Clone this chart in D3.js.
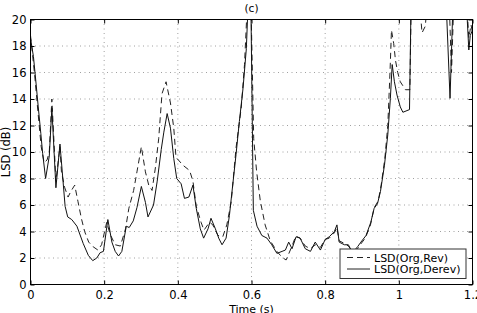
<!DOCTYPE html>
<html><head><meta charset="utf-8">
<script src="https://cdn.jsdelivr.net/npm/d3@7"></script>
<style>
html,body{margin:0;padding:0;background:#fff;}
svg text{font-family:"DejaVu Sans",sans-serif;}
</style></head>
<body><svg id="c" width="477" height="313"></svg>
<script>
const title = "(c)";
const xLabel = "Time (s)";
const yLabel = "LSD (dB)";
const seriesNames = ["LSD(Org,Rev)", "LSD(Org,Derev)"];
const xTicks = [0, 0.2, 0.4, 0.6, 0.8, 1.0, 1.2];
const yTicks = [0, 2, 4, 6, 8, 10, 12, 14, 16, 18, 20];

// LSD(Org,Rev) - dashed
const timeRev = [0.000,0.011,0.020,0.029,0.037,0.045,0.051,0.058,0.069,0.080,0.084,0.093,0.102,0.109,0.120,0.129,0.138,0.147,0.158,0.170,0.183,0.193,0.207,0.216,0.230,0.244,0.258,0.267,0.280,0.289,0.301,0.312,0.321,0.330,0.339,0.348,0.357,0.368,0.380,0.389,0.395,0.414,0.432,0.441,0.450,0.463,0.471,0.486,0.495,0.509,0.522,0.533,0.545,0.558,0.572,0.581,0.590,0.598,0.606,0.614,0.624,0.637,0.651,0.669,0.683,0.694,0.710,0.720,0.732,0.746,0.760,0.773,0.787,0.800,0.811,0.825,0.832,0.838,0.852,0.863,0.874,0.888,0.895,0.909,0.923,0.933,0.944,0.952,0.962,0.970,0.976,0.980,0.986,0.991,0.997,1.004,1.018,1.030,1.034,1.045,1.057,1.063,1.072,1.076,1.100,1.136,1.143,1.150,1.170,1.185,1.190,1.196,1.200];
const lsdRev = [18.8,15.9,13.1,10.4,9.2,9.4,10.0,14.0,7.8,10.4,8.5,7.3,6.6,7.0,7.5,6.25,5.0,4.0,3.2,2.85,2.6,3.0,4.7,3.8,3.0,2.9,4.2,5.75,7.1,8.5,10.4,8.5,7.5,7.1,8.8,11.0,14.4,15.3,13.7,11.8,9.6,9.0,8.6,7.8,5.9,4.7,4.1,4.7,4.5,3.7,3.6,4.5,6.25,10.3,13.3,16.6,22,22,11,8.5,6.3,4.5,3.3,2.5,2.05,1.85,2.9,3.65,3.5,2.9,2.7,3.0,2.8,3.4,3.5,3.9,4.3,3.3,3.1,2.9,2.5,2.7,3.0,3.5,4.5,5.8,6.3,7.5,9.5,12.0,16.0,19.2,18.2,16.9,16.0,15.3,14.7,14.7,22,23,21,19.0,19.5,21,23,22,16.0,22,23,21,18.6,19.6,19.0];

// LSD(Org,Derev) - solid
const timeDerev = [0.000,0.008,0.015,0.021,0.028,0.033,0.041,0.051,0.058,0.069,0.080,0.094,0.101,0.112,0.126,0.143,0.157,0.169,0.180,0.189,0.198,0.210,0.221,0.230,0.239,0.248,0.260,0.268,0.279,0.289,0.301,0.312,0.319,0.334,0.344,0.355,0.362,0.371,0.380,0.389,0.397,0.409,0.418,0.430,0.441,0.450,0.461,0.470,0.482,0.490,0.502,0.511,0.520,0.531,0.540,0.549,0.558,0.567,0.577,0.586,0.592,0.598,0.605,0.615,0.628,0.642,0.655,0.669,0.683,0.692,0.701,0.710,0.721,0.732,0.746,0.760,0.773,0.787,0.800,0.811,0.825,0.832,0.838,0.852,0.863,0.874,0.888,0.897,0.911,0.924,0.933,0.942,0.950,0.961,0.970,0.977,0.982,0.988,0.995,1.004,1.011,1.029,1.034,1.080,1.126,1.139,1.149,1.182,1.190,1.194,1.200];
const lsdDerev = [18.6,17.2,15.2,13.4,11.4,9.9,8.0,9.7,13.3,7.3,10.6,5.9,5.1,4.9,4.4,3.1,2.2,1.8,2.0,2.4,2.5,4.9,3.2,2.5,2.15,2.5,4.4,4.3,4.8,5.8,7.4,6.2,5.1,6.0,7.8,10.2,11.5,12.9,11.8,9.5,8.0,7.6,6.5,6.6,7.5,5.75,4.2,3.5,4.2,5.0,4.2,3.5,3.0,3.5,5.2,7.5,9.8,12.3,14.8,17.8,22,22,5.6,4.4,3.7,3.5,3.0,2.35,2.5,2.6,3.2,2.7,3.6,3.5,2.7,2.5,3.2,2.6,3.4,3.6,4.0,4.5,3.2,3.0,3.0,2.4,2.85,3.2,3.7,4.7,5.75,6.1,7.0,9.0,11.3,14.05,16.6,15.3,14.3,13.4,13.0,13.2,23,24,23,14.05,23,22,17.7,18.8,19.2];

const svg = d3.select("#c");
const L = 30.5, R = 472.5, T = 19.5, B = 284.5;
const x = d3.scaleLinear().domain([0, 1.2]).range([L, R]);
const y = d3.scaleLinear().domain([0, 20]).range([B, T]);

// grid
const grid = svg.append("g").attr("stroke", "#888").attr("stroke-width", 0.8).attr("stroke-dasharray", "1,3.5");
xTicks.slice(1, -1).forEach(t => grid.append("line").attr("x1", x(t)).attr("x2", x(t)).attr("y1", T).attr("y2", B));
yTicks.slice(1, -1).forEach(t => grid.append("line").attr("x1", L).attr("x2", R).attr("y1", y(t)).attr("y2", y(t)));

svg.append("clipPath").attr("id", "clip").append("rect").attr("x", L).attr("y", T).attr("width", R - L).attr("height", B - T);

const line = d3.line().x(d => x(d[0])).y(d => y(d[1]));
const rev = timeRev.map((t, i) => [t, lsdRev[i]]);
const derev = timeDerev.map((t, i) => [t, lsdDerev[i]]);
const gl = svg.append("g").attr("clip-path", "url(#clip)");
gl.append("path").attr("d", line(rev)).attr("fill", "none").attr("stroke", "#222").attr("stroke-width", 1).attr("stroke-dasharray", "6,4");
gl.append("path").attr("d", line(derev)).attr("fill", "none").attr("stroke", "#111").attr("stroke-width", 1);

// axes
const fmt = d3.format("~g");
const ax = (g) => { g.selectAll(".domain").remove(); g.selectAll("line").attr("stroke", "#000"); g.selectAll("text").attr("font-size", "11.5px").attr("fill", "#000").style("font-family", "DejaVu Sans"); };
svg.append("g").attr("transform", `translate(0,${B})`).call(d3.axisBottom(x).tickValues(xTicks).tickFormat(fmt).tickSizeInner(-4).tickSizeOuter(0).tickPadding(6)).call(ax);
svg.append("g").attr("transform", `translate(${L},0)`).call(d3.axisLeft(y).tickValues(yTicks).tickFormat(fmt).tickSizeInner(-4).tickSizeOuter(0).tickPadding(4)).call(ax);
svg.append("g").attr("transform", `translate(0,${T})`).call(d3.axisTop(x).tickValues(xTicks).tickFormat("").tickSizeInner(-4).tickSizeOuter(0)).call(ax);
svg.append("g").attr("transform", `translate(${R},0)`).call(d3.axisRight(y).tickValues(yTicks).tickFormat("").tickSizeInner(-4).tickSizeOuter(0)).call(ax);
svg.append("rect").attr("x", L).attr("y", T).attr("width", R - L).attr("height", B - T).attr("fill", "none").attr("stroke", "#000").attr("stroke-width", 1);

// labels
svg.append("text").attr("x", (L + R) / 2).attr("y", 11.5).attr("text-anchor", "middle").attr("font-size", "10.5px").text(title);
svg.append("text").attr("x", (L + R) / 2).attr("y", 312.5).attr("text-anchor", "middle").attr("font-size", "11px").text(xLabel);
svg.append("text").attr("transform", `translate(10,${(T + B) / 2}) rotate(-90)`).attr("text-anchor", "middle").attr("font-size", "11.5px").text(yLabel);

// legend
const lg = svg.append("g");
lg.append("rect").attr("x", 340).attr("y", 249).attr("width", 126).attr("height", 29.5).attr("fill", "#fff").attr("stroke", "#333").attr("stroke-width", 1);
const styles = ["6,4", null];
seriesNames.forEach((n, i) => {
  const yy = 257.5 + i * 11.5;
  const l = lg.append("line").attr("x1", 347).attr("x2", 370).attr("y1", yy).attr("y2", yy).attr("stroke", "#222").attr("stroke-width", 1);
  if (styles[i]) l.attr("stroke-dasharray", styles[i]);
  lg.append("text").attr("x", 374).attr("y", yy + 4).attr("font-size", "11px").text(n);
});
</script></body></html>
